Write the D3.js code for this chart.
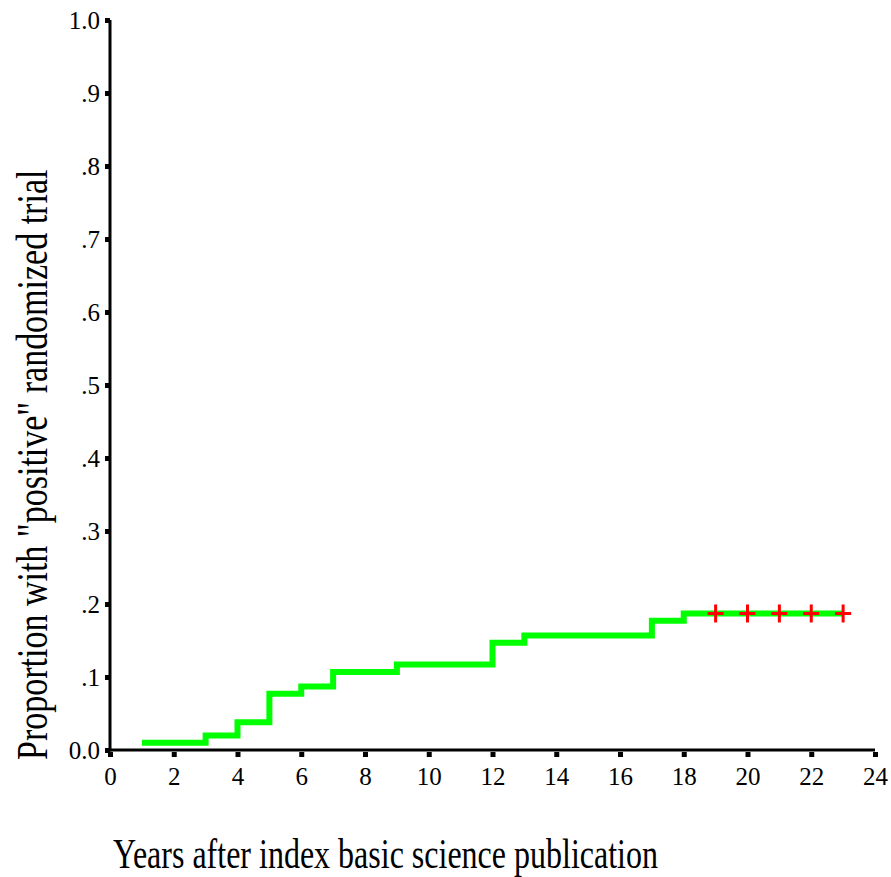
<!DOCTYPE html>
<html>
<head>
<meta charset="utf-8">
<script src="https://cdn.jsdelivr.net/npm/d3@7"></script>
<style>
  body { margin: 0; background: #fff; }
  text { font-family: "Liberation Serif", "Times New Roman", serif; fill: #000; }
</style>
</head>
<body>
<div id="chart"></div>
<script>
var width = 891,
height = 877;

// step points of the curve (year, cumulative proportion)
var stepYears = [1, 3, 4, 5, 6, 7, 9, 12, 13, 17, 18];
var stepValues = [0.01, 0.02, 0.038, 0.077, 0.087, 0.107, 0.117, 0.147, 0.157, 0.177, 0.187];
var endYear = 23;
var censorYears = [19, 20, 21, 22, 23];

var xTicks = [0, 2, 4, 6, 8, 10, 12, 14, 16, 18, 20, 22, 24];
var yTicks = [0, 0.1, 0.2, 0.3, 0.4, 0.5, 0.6, 0.7, 0.8, 0.9, 1.0];
var yTickLabels = ["0.0", ".1", ".2", ".3", ".4", ".5", ".6", ".7", ".8", ".9", "1.0"];

var svg = d3.select("#chart")
.append("svg")
.attr("width", width)
.attr("height", height);

var x = d3.scaleLinear().domain([0, 24]).range([110, 875]);
var y = d3.scaleLinear().domain([0, 1]).range([750, 20]);

// tick squares + labels
var xAxis = svg.append("g")
.attr("transform", "translate(0,752)")
.call(d3.axisBottom(x).tickValues(xTicks).tickSize(5).tickPadding(10));
xAxis.select(".domain").remove();
xAxis.selectAll("line").attr("stroke", "#000").attr("stroke-width", 5);
xAxis.selectAll("text").attr("font-size", 25).attr("font-family", "Liberation Serif");

var yAxis = svg.append("g")
.attr("transform", "translate(110,0)")
.call(d3.axisLeft(y).tickValues(yTicks).tickSize(5).tickPadding(5)
  .tickFormat(function(d, i) { return yTickLabels[i]; }));
yAxis.select(".domain").remove();
yAxis.selectAll("line").attr("stroke", "#000").attr("stroke-width", 5);
yAxis.selectAll("text").attr("font-size", 25).attr("font-family", "Liberation Serif");

// axis lines
svg.append("line")
.attr("x1", x(0)).attr("x2", x(0))
.attr("y1", y(1)).attr("y2", y(0) + 1.5)
.attr("stroke", "#000").attr("stroke-width", 3);
svg.append("line")
.attr("x1", x(0) - 1.5).attr("x2", x(24))
.attr("y1", y(0)).attr("y2", y(0))
.attr("stroke", "#000").attr("stroke-width", 3);

// step curve
var pts = stepYears.map(function(d, i) { return [d, stepValues[i]]; });
pts.push([endYear, stepValues[stepValues.length - 1]]);

var line = d3.line()
.x(function(d) { return x(d[0]); })
.y(function(d) { return y(d[1]); })
.curve(d3.curveStepAfter);

svg.append("path")
.datum(pts)
.attr("d", line)
.attr("fill", "none")
.attr("stroke", "#00ff00")
.attr("stroke-width", 6);

// censor marks
var lastVal = stepValues[stepValues.length - 1];
var marks = svg.selectAll(".censor")
.data(censorYears)
.enter()
.append("g")
.attr("class", "censor")
.attr("transform", function(d) { return "translate(" + x(d) + "," + y(lastVal) + ")"; });
marks.append("line").attr("x1", -8).attr("x2", 8).attr("y1", 0).attr("y2", 0)
.attr("stroke", "#ff0000").attr("stroke-width", 3);
marks.append("line").attr("x1", 0).attr("x2", 0).attr("y1", -9).attr("y2", 9)
.attr("stroke", "#ff0000").attr("stroke-width", 3);

// titles
svg.append("text")
.attr("transform", "translate(113,868) scale(1,1.3)")
.attr("font-size", 32)
.text("Years after index basic science publication");

svg.append("text")
.attr("transform", "translate(47,760) rotate(-90) scale(1,1.3)")
.attr("font-size", 34)
.text("Proportion with \"positive\" randomized trial");
</script>
</body>
</html>
